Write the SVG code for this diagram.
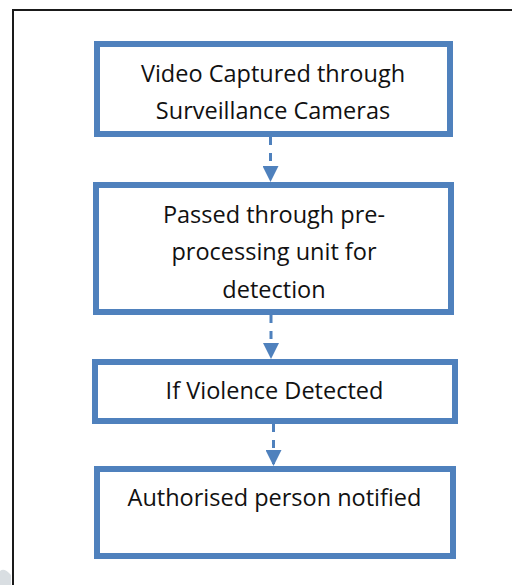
<svg xmlns="http://www.w3.org/2000/svg" width="512" height="585" viewBox="0 0 512 585">
<style>
.box{fill:#ffffff;stroke:#4f81bd;stroke-width:6}
.lbl{font-family:"Open Sans","Noto Sans","Liberation Sans",sans-serif;font-size:23.5px;fill:#111111;text-anchor:middle}
.conn{stroke:#4f81bd;stroke-width:3;stroke-dasharray:8,8;fill:none}
</style>
<defs>
<marker id="ah" markerUnits="userSpaceOnUse" markerWidth="16" markerHeight="16" refX="16" refY="8" orient="auto">
<path d="M0,0 L16,8 L0,16 Z" fill="#4f81bd"/>
</marker>
</defs>
<rect x="0" y="0" width="512" height="585" fill="#ffffff"/>
<rect x="13" y="10" width="620" height="620" fill="none" stroke="#1a1a1a" stroke-width="2"/>
<path d="M0,571 Q4,567 11,575 L11,585 L0,585 Z" fill="#d9dee2"/>
<g id="connectors">
<line class="conn" x1="270.5" y1="137" x2="270.5" y2="182" marker-end="url(#ah)"/>
<line class="conn" x1="271" y1="315" x2="271" y2="359" marker-end="url(#ah)"/>
<line class="conn" x1="273.5" y1="424" x2="273.5" y2="466" marker-end="url(#ah)"/>
</g>
<g id="node1">
<rect class="box" x="97" y="44" width="353" height="90"/>
<text class="lbl" x="273" y="82">Video Captured through</text>
<text class="lbl" x="273" y="119">Surveillance Cameras</text>
</g>
<g id="node2">
<rect class="box" x="96" y="185" width="355" height="127"/>
<text class="lbl" x="274" y="223">Passed through pre-</text>
<text class="lbl" x="274" y="260">processing unit for</text>
<text class="lbl" x="274" y="298">detection</text>
</g>
<g id="node3">
<rect class="box" x="95" y="362" width="360" height="59"/>
<text class="lbl" x="274.5" y="399">If Violence Detected</text>
</g>
<g id="node4">
<rect class="box" x="97" y="469" width="356" height="87"/>
<text class="lbl" x="274.5" y="506">Authorised person notified</text>
</g>
</svg>
